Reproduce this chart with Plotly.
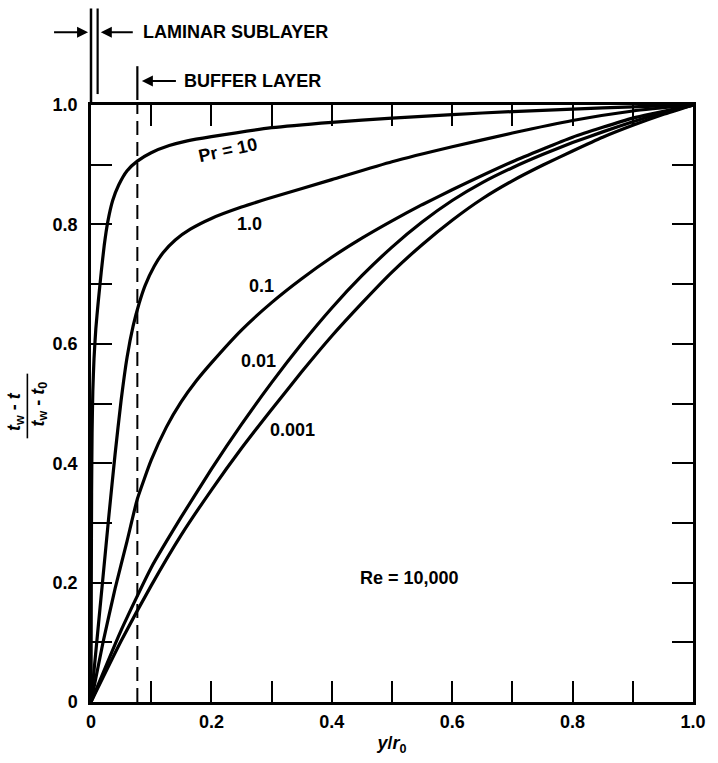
import plotly.graph_objects as go

# ---------------- data ----------------
x_pr10 = [0, 0.0005, 0.001, 0.0018, 0.003, 0.005, 0.008, 0.012, 0.017, 0.022, 0.028, 0.036,
          0.046, 0.06, 0.077, 0.1, 0.13, 0.16, 0.2, 0.3, 0.4, 0.5, 0.6, 0.7, 0.8, 0.9, 1.0]
y_pr10 = [0, 0.2, 0.35, 0.45, 0.52, 0.575, 0.625, 0.67, 0.72, 0.765, 0.805, 0.84,
          0.866, 0.89, 0.906, 0.92, 0.932, 0.94, 0.947, 0.962, 0.971, 0.978, 0.984, 0.989,
          0.993, 0.997, 1.0]

x_pr1 = [0, 0.01, 0.02, 0.03, 0.04, 0.05, 0.06, 0.07, 0.08, 0.09, 0.105, 0.12, 0.14, 0.165,
         0.2, 0.25, 0.3, 0.4, 0.5, 0.6, 0.7, 0.8, 0.9, 1.0]
y_pr1 = [0, 0.105, 0.21, 0.315, 0.415, 0.505, 0.578, 0.63, 0.668, 0.698, 0.73, 0.753, 0.774,
         0.792, 0.81, 0.829, 0.845, 0.875, 0.905, 0.93, 0.953, 0.974, 0.99, 1.0]

x_pr01 = [0, 0.02, 0.04, 0.06, 0.077, 0.1, 0.125, 0.15, 0.175, 0.2, 0.25, 0.3, 0.35, 0.4,
          0.45, 0.5, 0.55, 0.6, 0.7, 0.8, 0.9, 1.0]
y_pr01 = [0, 0.1, 0.19, 0.27, 0.34, 0.405, 0.46, 0.503, 0.538, 0.568, 0.623, 0.669, 0.709,
          0.745, 0.777, 0.806, 0.833, 0.858, 0.905, 0.946, 0.978, 1.0]

x_pr001 = [0, 0.05, 0.1, 0.15, 0.2, 0.25, 0.3, 0.35, 0.4, 0.45, 0.5, 0.55, 0.6, 0.65, 0.7,
           0.75, 0.8, 0.85, 0.9, 0.95, 1.0]
y_pr001 = [0, 0.12, 0.225, 0.31, 0.39, 0.465, 0.535, 0.6, 0.66, 0.714, 0.762, 0.804, 0.84,
           0.87, 0.895, 0.917, 0.937, 0.955, 0.972, 0.987, 1.0]

x_pr0001 = [0, 0.05, 0.1, 0.15, 0.2, 0.25, 0.3, 0.35, 0.4, 0.45, 0.5, 0.55, 0.6, 0.65, 0.7,
            0.75, 0.8, 0.85, 0.9, 0.95, 1.0]
y_pr0001 = [0, 0.102, 0.195, 0.28, 0.355, 0.425, 0.49, 0.553, 0.613, 0.668, 0.72, 0.766, 0.807,
            0.843, 0.873, 0.899, 0.923, 0.946, 0.966, 0.984, 1.0]

curve_labels = ["Pr = 10", "1.0", "0.1", "0.01", "0.001"]
label_x = [0.228, 0.264, 0.283, 0.278, 0.334]
label_y = [0.925, 0.80, 0.697, 0.572, 0.455]

laminar_edge = 0.011
buffer_edge = 0.077

tick_vals = [0, 0.1, 0.2, 0.3, 0.4, 0.5, 0.6, 0.7, 0.8, 0.9, 1.0]
tick_text = ["0", "", "0.2", "", "0.4", "", "0.6", "", "0.8", "", "1.0"]

re_text = "Re = 10,000"
re_x, re_y = 0.529, 0.208

# ---------------- layout geometry ----------------
W, H = 718, 763
ML, MR, MT, MB = 91, 12, 105, 58
PW, PH = W - ML - MR, H - MT - MB


def dx(px):
    return (px - ML) / PW


def dy(py):
    return (H - MB - py) / PH


FONT = "Liberation Sans, Arial, sans-serif"
FS = 18
LW = 3.2

fig = go.Figure()
series = [(x_pr10, y_pr10), (x_pr1, y_pr1), (x_pr01, y_pr01), (x_pr001, y_pr001), (x_pr0001, y_pr0001)]
for (xs, ys), name in zip(series, curve_labels):
    fig.add_trace(go.Scatter(x=xs, y=ys, mode="lines", name=name,
                             line=dict(color="black", width=LW, shape="spline", smoothing=0.5),
                             showlegend=False, hoverinfo="skip"))

# buffer layer dashed boundary inside the plot
fig.add_trace(go.Scatter(x=[buffer_edge, buffer_edge], y=[0, 1], mode="lines",
                         line=dict(color="black", width=2, dash="14px,7px"),
                         showlegend=False, hoverinfo="skip"))

shapes = [
    dict(type="line", xref="x domain", yref="y domain", x0=0, x1=0, y0=1, y1=dy(8),
         line=dict(color="black", width=2.5)),
    dict(type="line", xref="x domain", yref="y domain", x0=laminar_edge, x1=laminar_edge,
         y0=dy(94), y1=dy(8), line=dict(color="black", width=2.2)),
    dict(type="line", xref="x domain", yref="y domain", x0=buffer_edge, x1=buffer_edge,
         y0=dy(100), y1=dy(66), line=dict(color="black", width=2.2)),
    dict(type="line", xref="paper", yref="paper", x0=dx(26), x1=dx(26), y0=dy(440), y1=dy(375),
         line=dict(color="black", width=1.6)),
]

annotations = []
for tip, tail_dx, yy in [(88, -38, 32), (101, 36, 32), (143, 38, 81)]:
    annotations.append(dict(xref="paper", yref="paper", x=dx(tip), y=dy(yy), text=" ",
                            showarrow=True, arrowhead=2, arrowsize=1.1, arrowwidth=2,
                            arrowcolor="black", ax=tail_dx, ay=0, standoff=0))
annotations.append(dict(xref="paper", yref="paper", x=dx(142), y=dy(32), text="LAMINAR SUBLAYER",
                        showarrow=False, xanchor="left", yanchor="middle"))
annotations.append(dict(xref="paper", yref="paper", x=dx(184), y=dy(81), text="BUFFER LAYER",
                        showarrow=False, xanchor="left", yanchor="middle"))
for t, lx, ly in zip(curve_labels, label_x, label_y):
    annotations.append(dict(x=lx, y=ly, text=t, showarrow=False,
                            textangle=-12 if t.startswith("Pr") else 0))
annotations.append(dict(x=re_x, y=re_y, text=re_text, showarrow=False))
annotations.append(dict(xref="paper", yref="paper", x=dx(14), y=dy(413),
                        text="<i>t</i><sub>w</sub> - <i>t</i>", textangle=-90,
                        showarrow=False, xanchor="center", yanchor="middle"))
annotations.append(dict(xref="paper", yref="paper", x=dx(38), y=dy(406),
                        text="<i>t</i><sub>w</sub> - <i>t</i><sub>0</sub>", textangle=-90,
                        showarrow=False, xanchor="center", yanchor="middle"))

axis_common = dict(range=[0, 1], tickvals=tick_vals, ticktext=tick_text, ticks="inside",
                   ticklen=21, tickwidth=2, tickcolor="black", showline=True, linewidth=2.5,
                   linecolor="black", mirror="ticks", showgrid=False, zeroline=False,
                   tickfont=dict(family=FONT, size=FS, color="black", weight="bold"))

fig.update_layout(
    width=W, height=H, margin=dict(l=ML, r=MR, t=MT, b=MB),
    paper_bgcolor="white", plot_bgcolor="white",
    font=dict(family=FONT, size=FS, color="black", weight="bold"),
    xaxis=dict(**axis_common, ticklabelstandoff=2,
               title=dict(text="<i>y</i>/<i>r</i><sub>0</sub>", standoff=6,
                          font=dict(family=FONT, size=FS, color="black", weight="bold"))),
    yaxis=dict(**axis_common, ticklabelstandoff=7),
    shapes=shapes, annotations=annotations,
)

fig.write_html("out.html")
